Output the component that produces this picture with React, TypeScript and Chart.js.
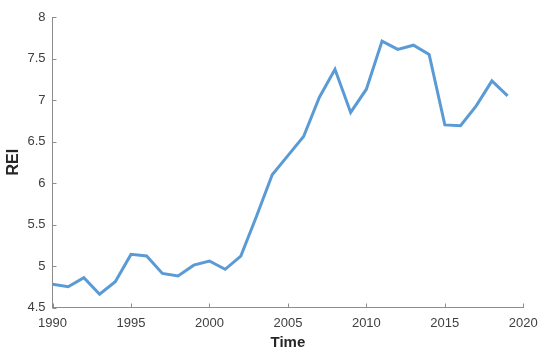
import React, { useEffect, useRef } from "react";
import { Chart, registerables } from "chart.js";

Chart.register(...registerables);

const years: number[] = [1990, 1991, 1992, 1993, 1994, 1995, 1996, 1997, 1998, 1999, 2000, 2001, 2002, 2003, 2004, 2005, 2006, 2007, 2008, 2009, 2010, 2011, 2012, 2013, 2014, 2015, 2016, 2017, 2018, 2019];
const rei: number[] = [4.78, 4.75, 4.86, 4.66, 4.81, 5.14, 5.12, 4.91, 4.88, 5.01, 5.06, 4.96, 5.12, 5.6, 6.1, 6.33, 6.56, 7.03, 7.37, 6.85, 7.13, 7.71, 7.61, 7.66, 7.55, 6.7, 6.69, 6.93, 7.23, 7.05];
const xTicks: number[] = [1990, 1995, 2000, 2005, 2010, 2015, 2020];
const yTicks: number[] = [4.5, 5, 5.5, 6, 6.5, 7, 7.5, 8];

const FONT = "'Liberation Sans', Arial, Helvetica, sans-serif";
const AXIS_COLOR = "#8c8c8c";

const inwardTicks = {
  id: "inwardTicks",
  afterDraw(chart: any) {
    const ctx = chart.ctx;
    const xs = chart.scales.x;
    const ys = chart.scales.y;
    const area = chart.chartArea;
    ctx.save();
    ctx.strokeStyle = AXIS_COLOR;
    ctx.lineWidth = 1;
    ctx.beginPath();
    xTicks.forEach((v) => {
      const px = Math.round(xs.getPixelForValue(v)) + 0.5;
      ctx.moveTo(px, area.bottom);
      ctx.lineTo(px, area.bottom - 4);
    });
    yTicks.forEach((v) => {
      const py = Math.round(ys.getPixelForValue(v)) + 0.5;
      ctx.moveTo(area.left, py);
      ctx.lineTo(area.left + 4, py);
    });
    ctx.stroke();
    ctx.restore();
  },
};

export default function App() {
  const ref = useRef<HTMLCanvasElement | null>(null);
  useEffect(() => {
    document.body.style.margin = "0";
    const canvas = ref.current;
    if (!canvas) return;
    const chart = new Chart(canvas, {
      type: "line",
      data: {
        datasets: [
          {
            label: "REI",
            data: years.map((y, i) => ({ x: y, y: rei[i] })),
            borderColor: "#5B9BD5",
            borderWidth: 3,
            pointRadius: 0,
            tension: 0,
            fill: false,
          },
        ],
      },
      options: {
        animation: false,
        responsive: false,
        maintainAspectRatio: false,
        devicePixelRatio: 1,
        layout: { padding: { left: 0, right: 26.7, top: 17, bottom: 0 } },
        plugins: { legend: { display: false }, tooltip: { enabled: false } },
        scales: {
          x: {
            type: "linear",
            min: 1990,
            max: 2020,
            afterBuildTicks: (scale: any) => {
              scale.ticks = xTicks.map((v) => ({ value: v }));
            },
            afterFit: (scale: any) => {
              scale.height = 47.5;
            },
            grid: { display: false, drawTicks: false },
            border: { display: true, color: AXIS_COLOR, width: 1 },
            ticks: {
              padding: 8,
              color: "#404040",
              font: { family: FONT, size: 13 },
              maxRotation: 0,
              autoSkip: false,
              callback: (v: any) => String(v),
            },
            title: {
              display: true,
              text: "Time",
              color: "#262626",
              font: { family: FONT, size: 15, weight: "bold" },
              padding: { top: 0, bottom: 3.3 },
            },
          },
          y: {
            type: "linear",
            min: 4.5,
            max: 8,
            afterBuildTicks: (scale: any) => {
              scale.ticks = yTicks.map((v) => ({ value: v }));
            },
            afterFit: (scale: any) => {
              scale.width = 52.5;
            },
            grid: { display: false, drawTicks: false },
            border: { display: true, color: AXIS_COLOR, width: 1 },
            ticks: {
              padding: 7,
              color: "#404040",
              font: { family: FONT, size: 13 },
              autoSkip: false,
              callback: (v: any) => String(v),
            },
            title: {
              display: true,
              text: "REI",
              color: "#262626",
              font: { family: FONT, size: 16, weight: "bold" },
              padding: { top: 4.1, bottom: 0 },
            },
          },
        },
      },
      plugins: [inwardTicks],
    });
    return () => chart.destroy();
  }, []);
  return (
    <div style={{ position: "absolute", left: 0, top: 0, width: 550, height: 355, background: "#fff" }}>
      <canvas ref={ref} width={550} height={355} style={{ width: 550, height: 355, display: "block" }} />
    </div>
  );
}
